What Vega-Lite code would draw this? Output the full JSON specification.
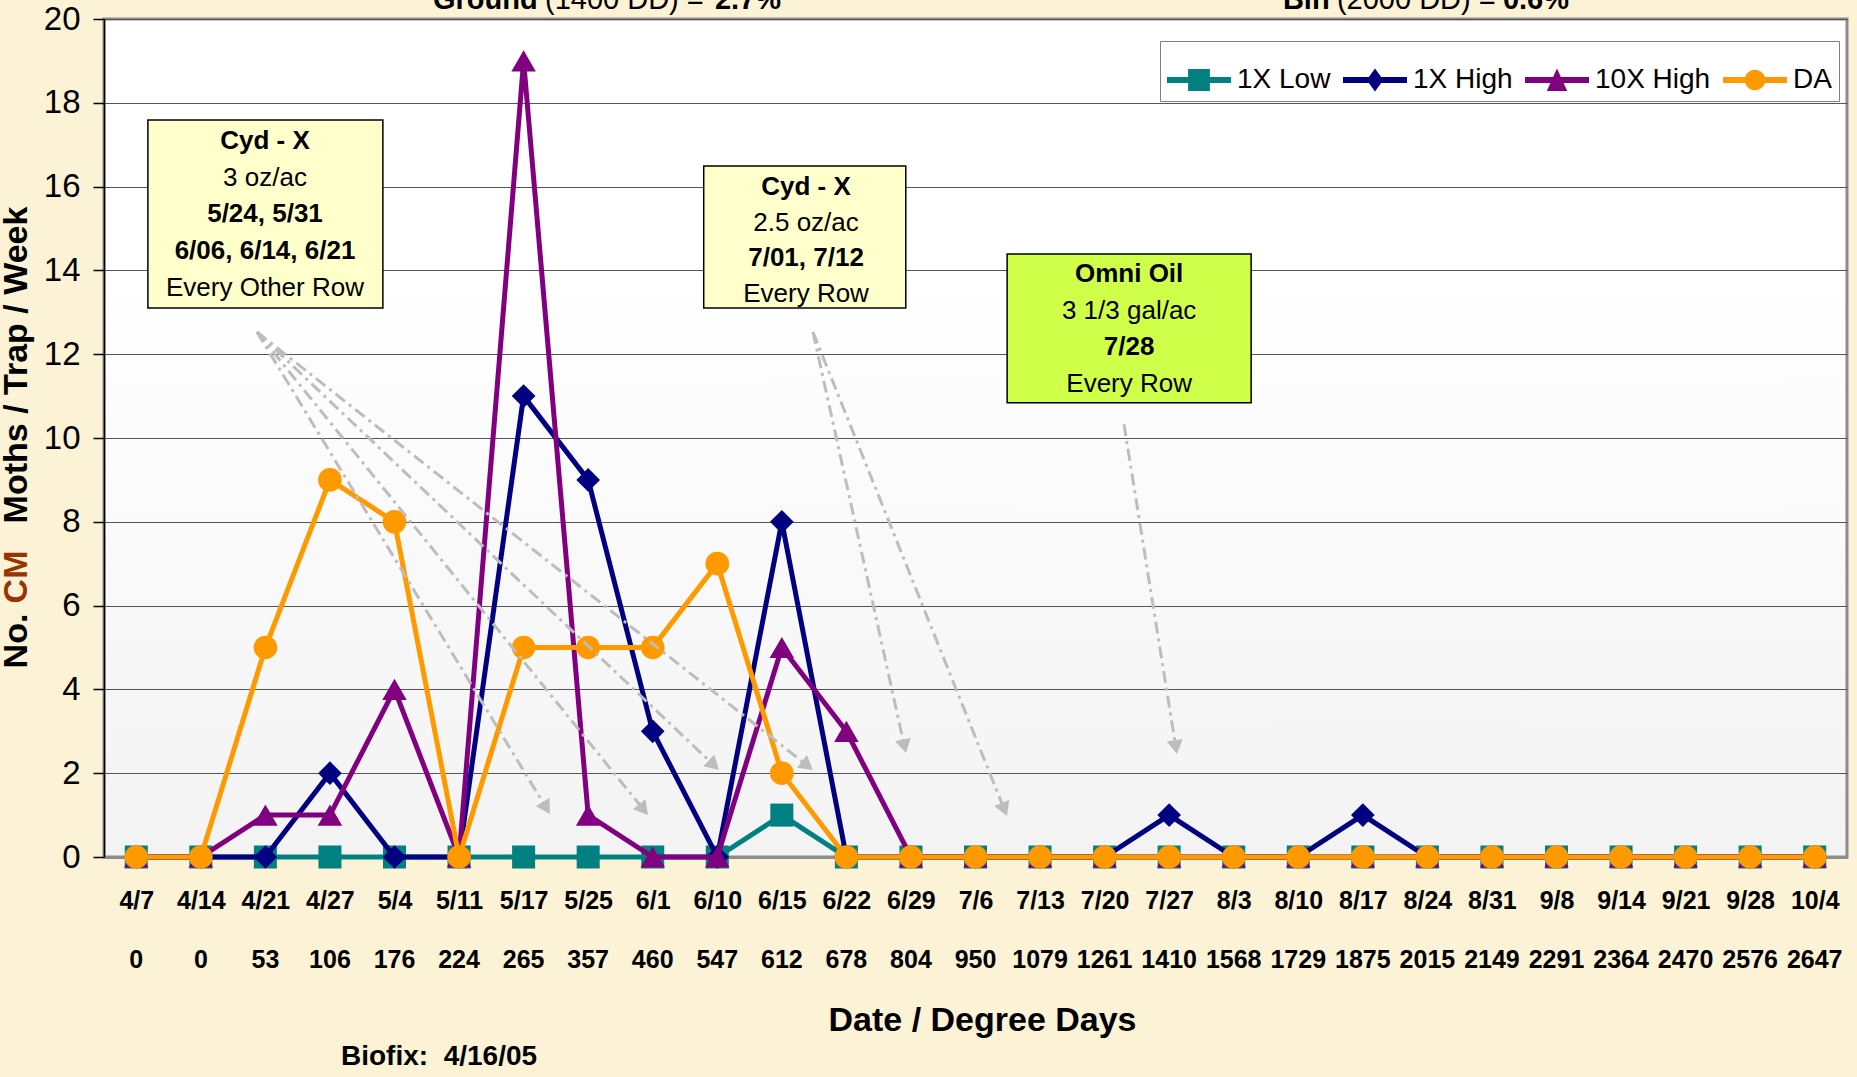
{
  "$schema": "https://vega.github.io/schema/vega-lite/v6.json",
  "width": 1743,
  "height": 838,
  "autosize": {"type": "none"},
  "padding": {"left": 104, "top": 19, "right": 10, "bottom": 220},
  "background": "#FCF2D6",
  "config": {
    "font": "Liberation Sans",
    "view": {
      "stroke": "#8C8C8C",
      "strokeWidth": 3,
      "fill": {
        "gradient": "linear", "x1": 0, "y1": 0, "x2": 0, "y2": 1,
        "stops": [
          {"offset": 0, "color": "#FFFFFF"},
          {"offset": 0.3, "color": "#FFFFFF"},
          {"offset": 1, "color": "#F3F3F3"}
        ]
      }
    },
    "legend": {
      "orient": "none",
      "legendX": 1056,
      "legendY": 22,
      "direction": "horizontal",
      "padding": 7,
      "strokeColor": "#808080",
      "fillColor": "#FFFFFF",
      "labelFont": "Liberation Sans",
      "labelFontSize": 28,
      "labelColor": "#000000",
      "labelOffset": 6,
      "columnPadding": 12,
      "symbolSize": 4096,
      "symbolStrokeWidth": 0
    }
  },
  "datasets": {
    "counts": [
      {"date": "4/7", "dd": 0, "low": 0, "high": 0, "high10": 0, "da": 0},
      {"date": "4/14", "dd": 0, "low": 0, "high": 0, "high10": 0, "da": 0},
      {"date": "4/21", "dd": 53, "low": 0, "high": 0, "high10": 1, "da": 5},
      {"date": "4/27", "dd": 106, "low": 0, "high": 2, "high10": 1, "da": 9},
      {"date": "5/4", "dd": 176, "low": 0, "high": 0, "high10": 4, "da": 8},
      {"date": "5/11", "dd": 224, "low": 0, "high": 0, "high10": 0, "da": 0},
      {"date": "5/17", "dd": 265, "low": 0, "high": 11, "high10": 19, "da": 5},
      {"date": "5/25", "dd": 357, "low": 0, "high": 9, "high10": 1, "da": 5},
      {"date": "6/1", "dd": 460, "low": 0, "high": 3, "high10": 0, "da": 5},
      {"date": "6/10", "dd": 547, "low": 0, "high": 0, "high10": 0, "da": 7},
      {"date": "6/15", "dd": 612, "low": 1, "high": 8, "high10": 5, "da": 2},
      {"date": "6/22", "dd": 678, "low": 0, "high": 0, "high10": 3, "da": 0},
      {"date": "6/29", "dd": 804, "low": 0, "high": 0, "high10": 0, "da": 0},
      {"date": "7/6", "dd": 950, "low": 0, "high": 0, "high10": 0, "da": 0},
      {"date": "7/13", "dd": 1079, "low": 0, "high": 0, "high10": 0, "da": 0},
      {"date": "7/20", "dd": 1261, "low": 0, "high": 0, "high10": 0, "da": 0},
      {"date": "7/27", "dd": 1410, "low": 0, "high": 1, "high10": 0, "da": 0},
      {"date": "8/3", "dd": 1568, "low": 0, "high": 0, "high10": 0, "da": 0},
      {"date": "8/10", "dd": 1729, "low": 0, "high": 0, "high10": 0, "da": 0},
      {"date": "8/17", "dd": 1875, "low": 0, "high": 1, "high10": 0, "da": 0},
      {"date": "8/24", "dd": 2015, "low": 0, "high": 0, "high10": 0, "da": 0},
      {"date": "8/31", "dd": 2149, "low": 0, "high": 0, "high10": 0, "da": 0},
      {"date": "9/8", "dd": 2291, "low": 0, "high": 0, "high10": 0, "da": 0},
      {"date": "9/14", "dd": 2364, "low": 0, "high": 0, "high10": 0, "da": 0},
      {"date": "9/21", "dd": 2470, "low": 0, "high": 0, "high10": 0, "da": 0},
      {"date": "9/28", "dd": 2576, "low": 0, "high": 0, "high10": 0, "da": 0},
      {"date": "10/4", "dd": 2647, "low": 0, "high": 0, "high10": 0, "da": 0}
    ],
    "boxesYellow": [
      {"x1": 0.18, "x2": 3.82, "y1": 17.59, "y2": 13.1},
      {"x1": 8.79, "x2": 11.92, "y1": 16.49, "y2": 13.1}
    ],
    "boxesGreen": [
      {"x1": 13.49, "x2": 17.27, "y1": 14.39, "y2": 10.84}
    ],
    "boxBold": [
      {"x": 1.994, "y": 16.897, "t": "Cyd - X"},
      {"x": 1.994, "y": 15.155, "t": "5/24, 5/31"},
      {"x": 1.994, "y": 14.272, "t": "6/06, 6/14, 6/21"},
      {"x": 10.375, "y": 15.8, "t": "Cyd - X"},
      {"x": 10.375, "y": 14.105, "t": "7/01, 7/12"},
      {"x": 15.38, "y": 13.723, "t": "Omni Oil"},
      {"x": 15.38, "y": 11.981, "t": "7/28"}
    ],
    "boxRegular": [
      {"x": 1.994, "y": 16.014, "t": "3 oz/ac"},
      {"x": 1.994, "y": 13.389, "t": "Every Other Row"},
      {"x": 10.375, "y": 14.94, "t": "2.5 oz/ac"},
      {"x": 10.375, "y": 13.246, "t": "Every Row"},
      {"x": 15.38, "y": 12.84, "t": "3 1/3 gal/ac"},
      {"x": 15.38, "y": 11.098, "t": "Every Row"}
    ],
    "arrows": [
      {"x1": 1.87, "y1": 12.53, "x2": 6.352, "y2": 1.169},
      {"x1": 1.87, "y1": 12.53, "x2": 7.858, "y2": 1.131},
      {"x1": 1.87, "y1": 12.53, "x2": 8.947, "y2": 2.191},
      {"x1": 1.87, "y1": 12.53, "x2": 10.397, "y2": 2.179},
      {"x1": 10.482, "y1": 12.53, "x2": 11.899, "y2": 2.644},
      {"x1": 10.482, "y1": 12.53, "x2": 13.447, "y2": 1.134},
      {"x1": 15.3, "y1": 10.33, "x2": 16.103, "y2": 2.623}
    ],
    "headerBold": [
      {"x": 4.596, "y": 20.239, "t": "Ground"},
      {"x": 8.964, "y": 20.239, "t": "2.7%"},
      {"x": 17.762, "y": 20.239, "t": "Bin"},
      {"x": 21.17, "y": 20.239, "t": "0.6%"}
    ],
    "headerRegular": [
      {"x": 6.331, "y": 20.239, "t": "(1400 DD) ="},
      {"x": 18.599, "y": 20.239, "t": "(2000 DD) ="}
    ],
    "yTitleBlack": [
      {"x": -1.848, "y": 5.155, "t": "No."},
      {"x": -1.848, "y": 11.742, "t": "Moths / Trap / Week"}
    ],
    "yTitleRed": [
      {"x": -1.848, "y": 6.683, "t": "CM"}
    ],
    "notes": [
      {"x": 3.171, "y": -4.964, "t": "Biofix:\u00a0 4/16/05"}
    ]
  },
  "resolve": {"scale": {"x": "independent"}},
  "layer": [
    {
      "data": {"name": "counts"},
      "encoding": {
        "x": {
          "field": "date", "type": "nominal", "sort": null,
          "axis": {
            "title": "Date / Degree Days",
            "titleFont": "Liberation Sans", "titleFontSize": 34, "titleFontWeight": "bold", "titleColor": "#000000",
            "titleBaseline": "alphabetic", "titleX": 878, "titleY": 173,
            "labelFont": "Liberation Sans", "labelFontSize": 25, "labelFontWeight": "bold", "labelColor": "#000000",
            "labelBaseline": "alphabetic", "labelPadding": 51, "labelAngle": 0, "labelOverlap": false,
            "ticks": false, "tickSize": 0,
            "domainColor": "#8C8C8C", "domainWidth": 3, "grid": false
          }
        }
      },
      "layer": [
        {
          "mark": {"type": "line", "color": "#008080", "strokeWidth": 5},
          "encoding": {
            "y": {
              "field": "low", "type": "quantitative", "title": null,
              "scale": {"domain": [0, 20], "nice": false},
              "axis": {
                "title": null, "values": [0, 2, 4, 6, 8, 10, 12, 14, 16, 18, 20],
                "labelFont": "Liberation Sans", "labelFontSize": 33, "labelColor": "#000000", "labelPadding": 13,
                "tickSize": 11, "tickColor": "#000000", "tickWidth": 1.5,
                "domainColor": "#000000", "domainWidth": 1.5,
                "grid": true, "gridColor": "#555555", "gridWidth": 1.2
              }
            }
          }
        },
        {
          "mark": {"type": "point", "shape": "square", "filled": true, "size": 530, "color": "#008080", "opacity": 1, "strokeWidth": 0},
          "encoding": {"y": {"field": "low", "type": "quantitative", "title": null, "scale": {"domain": [0, 20], "nice": false}}}
        },
        {
          "mark": {"type": "line", "color": "#000080", "strokeWidth": 5},
          "encoding": {"y": {"field": "high", "type": "quantitative", "title": null, "scale": {"domain": [0, 20], "nice": false}}}
        },
        {
          "mark": {"type": "point", "shape": "diamond", "filled": true, "size": 560, "color": "#000080", "opacity": 1, "strokeWidth": 0},
          "encoding": {"y": {"field": "high", "type": "quantitative", "title": null, "scale": {"domain": [0, 20], "nice": false}}}
        },
        {
          "mark": {"type": "line", "color": "#800080", "strokeWidth": 5},
          "encoding": {"y": {"field": "high10", "type": "quantitative", "title": null, "scale": {"domain": [0, 20], "nice": false}}}
        },
        {
          "mark": {"type": "point", "shape": "triangle-up", "filled": true, "size": 600, "color": "#800080", "opacity": 1, "strokeWidth": 0},
          "encoding": {"y": {"field": "high10", "type": "quantitative", "title": null, "scale": {"domain": [0, 20], "nice": false}}}
        },
        {
          "mark": {"type": "line", "color": "#FF9900", "strokeWidth": 5},
          "encoding": {"y": {"field": "da", "type": "quantitative", "title": null, "scale": {"domain": [0, 20], "nice": false}}}
        },
        {
          "mark": {"type": "point", "shape": "circle", "filled": true, "size": 560, "color": "#FF9900", "opacity": 1, "strokeWidth": 0},
          "encoding": {"y": {"field": "da", "type": "quantitative", "title": null, "scale": {"domain": [0, 20], "nice": false}}}
        },
        {
          "mark": {"type": "text", "font": "Liberation Sans", "fontSize": 25, "fontWeight": "bold", "color": "#000000", "align": "center", "baseline": "alphabetic", "dy": 111},
          "encoding": {
            "y": {"datum": 0, "type": "quantitative", "title": null, "scale": {"domain": [0, 20], "nice": false}},
            "text": {"field": "dd", "type": "nominal"}
          }
        },
        {
          "data": {"values": []},
          "mark": {"type": "point", "filled": true, "opacity": 1, "size": 4096, "strokeWidth": 0},
          "encoding": {
            "color": {
              "field": "series", "type": "nominal",
              "scale": {"domain": ["1X Low", "1X High", "10X High", "DA"], "range": ["#008080", "#000080", "#800080", "#FF9900"]},
              "legend": {"title": null}
            },
            "shape": {
              "field": "series", "type": "nominal",
              "scale": {
                "domain": ["1X Low", "1X High", "10X High", "DA"],
                "range": [
                  "M-1,-0.09H1V0.09H-1Z M-0.34,-0.34H0.34V0.34H-0.34Z",
                  "M-1,-0.09H1V0.09H-1Z M0,-0.36L0.26,0L0,0.36L-0.26,0Z",
                  "M-1,-0.09H1V0.09H-1Z M0,-0.36L0.32,0.34H-0.32Z",
                  "M-1,-0.09H1V0.09H-1Z M-0.32,0A0.32,0.32 0 1,1 0.32,0A0.32,0.32 0 1,1 -0.32,0Z"
                ]
              },
              "legend": {"title": null}
            }
          }
        }
      ]
    },
    {
      "layer": [
        {
          "data": {"name": "arrows"},
          "mark": {"type": "rule", "color": "#BDBDBD", "strokeWidth": 3, "strokeDash": [12, 5, 3, 5]},
          "encoding": {
            "x": {"field": "x1", "type": "quantitative", "scale": {"domain": [-0.5, 26.5], "nice": false, "zero": false}, "axis": null},
            "x2": {"field": "x2"},
            "y": {"field": "y1", "type": "quantitative", "title": null, "scale": {"domain": [0, 20], "nice": false}},
            "y2": {"field": "y2"}
          }
        },
        {
          "data": {"name": "arrows"},
          "transform": [{"calculate": "atan2((datum.x2 - datum.x1) * 64.56, (datum.y2 - datum.y1) * 41.9) * 180 / PI", "as": "ang"}],
          "mark": {"type": "point", "shape": "triangle-up", "filled": true, "size": 260, "color": "#BDBDBD", "opacity": 1, "strokeWidth": 0},
          "encoding": {
            "x": {"field": "x2", "type": "quantitative", "scale": {"domain": [-0.5, 26.5], "nice": false, "zero": false}, "axis": null},
            "y": {"field": "y2", "type": "quantitative", "title": null, "scale": {"domain": [0, 20], "nice": false}},
            "angle": {"field": "ang", "type": "quantitative", "scale": null}
          }
        },
        {
          "data": {"name": "boxesYellow"},
          "mark": {"type": "rect", "fill": "#FFFFCC", "stroke": "#000000", "strokeWidth": 1.5},
          "encoding": {
            "x": {"field": "x1", "type": "quantitative", "scale": {"domain": [-0.5, 26.5], "nice": false, "zero": false}, "axis": null},
            "x2": {"field": "x2"},
            "y": {"field": "y1", "type": "quantitative", "title": null, "scale": {"domain": [0, 20], "nice": false}},
            "y2": {"field": "y2"}
          }
        },
        {
          "data": {"name": "boxesGreen"},
          "mark": {"type": "rect", "fill": "#D0FF4A", "stroke": "#000000", "strokeWidth": 1.5},
          "encoding": {
            "x": {"field": "x1", "type": "quantitative", "scale": {"domain": [-0.5, 26.5], "nice": false, "zero": false}, "axis": null},
            "x2": {"field": "x2"},
            "y": {"field": "y1", "type": "quantitative", "title": null, "scale": {"domain": [0, 20], "nice": false}},
            "y2": {"field": "y2"}
          }
        },
        {
          "data": {"name": "boxBold"},
          "mark": {"type": "text", "font": "Liberation Sans", "fontSize": 26, "fontWeight": "bold", "color": "#000000", "align": "center", "baseline": "alphabetic"},
          "encoding": {
            "x": {"field": "x", "type": "quantitative", "scale": {"domain": [-0.5, 26.5], "nice": false, "zero": false}, "axis": null},
            "y": {"field": "y", "type": "quantitative", "title": null, "scale": {"domain": [0, 20], "nice": false}},
            "text": {"field": "t", "type": "nominal"}
          }
        },
        {
          "data": {"name": "boxRegular"},
          "mark": {"type": "text", "font": "Liberation Sans", "fontSize": 26, "fontWeight": "normal", "color": "#000000", "align": "center", "baseline": "alphabetic"},
          "encoding": {
            "x": {"field": "x", "type": "quantitative", "scale": {"domain": [-0.5, 26.5], "nice": false, "zero": false}, "axis": null},
            "y": {"field": "y", "type": "quantitative", "title": null, "scale": {"domain": [0, 20], "nice": false}},
            "text": {"field": "t", "type": "nominal"}
          }
        },
        {
          "data": {"name": "headerBold"},
          "mark": {"type": "text", "font": "Liberation Sans", "fontSize": 29, "fontWeight": "bold", "color": "#000000", "align": "left", "baseline": "alphabetic"},
          "encoding": {
            "x": {"field": "x", "type": "quantitative", "scale": {"domain": [-0.5, 26.5], "nice": false, "zero": false}, "axis": null},
            "y": {"field": "y", "type": "quantitative", "title": null, "scale": {"domain": [0, 20], "nice": false}},
            "text": {"field": "t", "type": "nominal"}
          }
        },
        {
          "data": {"name": "headerRegular"},
          "mark": {"type": "text", "font": "Liberation Sans", "fontSize": 29, "fontWeight": "normal", "color": "#000000", "align": "left", "baseline": "alphabetic"},
          "encoding": {
            "x": {"field": "x", "type": "quantitative", "scale": {"domain": [-0.5, 26.5], "nice": false, "zero": false}, "axis": null},
            "y": {"field": "y", "type": "quantitative", "title": null, "scale": {"domain": [0, 20], "nice": false}},
            "text": {"field": "t", "type": "nominal"}
          }
        },
        {
          "data": {"name": "yTitleBlack"},
          "mark": {"type": "text", "font": "Liberation Sans", "fontSize": 34, "fontWeight": "bold", "color": "#000000", "align": "center", "baseline": "middle", "angle": 270},
          "encoding": {
            "x": {"field": "x", "type": "quantitative", "scale": {"domain": [-0.5, 26.5], "nice": false, "zero": false}, "axis": null},
            "y": {"field": "y", "type": "quantitative", "title": null, "scale": {"domain": [0, 20], "nice": false}},
            "text": {"field": "t", "type": "nominal"}
          }
        },
        {
          "data": {"name": "yTitleRed"},
          "mark": {"type": "text", "font": "Liberation Sans", "fontSize": 34, "fontWeight": "bold", "color": "#993300", "align": "center", "baseline": "middle", "angle": 270},
          "encoding": {
            "x": {"field": "x", "type": "quantitative", "scale": {"domain": [-0.5, 26.5], "nice": false, "zero": false}, "axis": null},
            "y": {"field": "y", "type": "quantitative", "title": null, "scale": {"domain": [0, 20], "nice": false}},
            "text": {"field": "t", "type": "nominal"}
          }
        },
        {
          "data": {"name": "notes"},
          "mark": {"type": "text", "font": "Liberation Sans", "fontSize": 28, "fontWeight": "bold", "color": "#000000", "align": "left", "baseline": "alphabetic"},
          "encoding": {
            "x": {"field": "x", "type": "quantitative", "scale": {"domain": [-0.5, 26.5], "nice": false, "zero": false}, "axis": null},
            "y": {"field": "y", "type": "quantitative", "title": null, "scale": {"domain": [0, 20], "nice": false}},
            "text": {"field": "t", "type": "nominal"}
          }
        }
      ]
    }
  ]
}
